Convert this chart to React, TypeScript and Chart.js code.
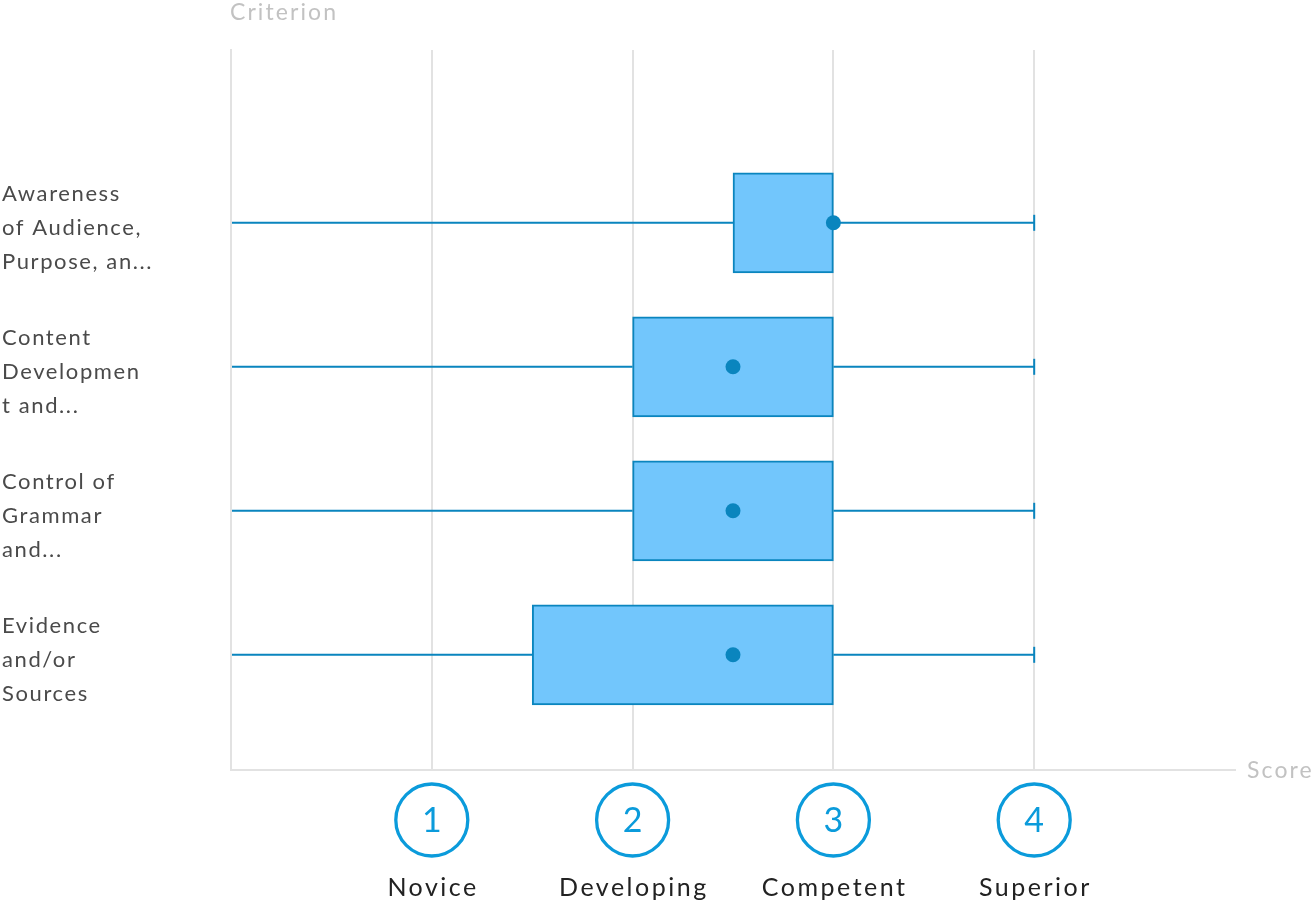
import React, { useEffect, useRef } from 'react';
import { Chart, registerables } from 'chart.js';

Chart.register(...registerables);

const categories: string[][] = [
  ['Awareness', 'of Audience,', 'Purpose, an...'],
  ['Content', 'Developmen', 't and...'],
  ['Control of', 'Grammar', 'and...'],
  ['Evidence', 'and/or', 'Sources'],
];
const mins = [0, 0, 0, 0];
const q1s = [2.5, 2, 2, 1.5];
const medians = [3, 2.5, 2.5, 2.5];
const q3s = [3, 3, 3, 3];
const maxs = [4, 4, 4, 4];
const scoreTicks = [1, 2, 3, 4];
const scoreLabels = ['Novice', 'Developing', 'Competent', 'Superior'];

const BLUE = '#0A85BE';
const FILL = '#72C6FC';
const GRID = '#e2e2e2';
const RING = '#0B9BDB';

const boxPlugin = {
  id: 'boxExtras',
  beforeDraw(chart: any) {
    (chart.ctx as any).letterSpacing = '1.6px';
  },
  beforeDatasetsDraw(chart: any) {
    const { ctx, scales } = chart;
    const xs = scales.x;
    const ys = scales.y;
    ctx.save();
    ctx.strokeStyle = BLUE;
    ctx.lineWidth = 2;
    categories.forEach((_, i) => {
      const y = ys.getPixelForValue(i);
      ctx.beginPath();
      ctx.moveTo(xs.getPixelForValue(mins[i]) + 1, y);
      ctx.lineTo(xs.getPixelForValue(q1s[i]), y);
      ctx.moveTo(xs.getPixelForValue(q3s[i]), y);
      ctx.lineTo(xs.getPixelForValue(maxs[i]), y);
      ctx.stroke();
      const xm = xs.getPixelForValue(maxs[i]);
      ctx.beginPath();
      ctx.moveTo(xm, y - 8);
      ctx.lineTo(xm, y + 8);
      ctx.stroke();
    });
    ctx.restore();
  },
  afterDraw(chart: any) {
    const { ctx, scales, chartArea } = chart;
    const xs = scales.x;
    ctx.save();
    scoreTicks.forEach((v, i) => {
      const x = xs.getPixelForValue(v);
      const cy = chartArea.bottom + 50;
      ctx.beginPath();
      ctx.arc(x, cy, 36, 0, Math.PI * 2);
      ctx.strokeStyle = RING;
      ctx.lineWidth = 3.3;
      ctx.stroke();
      ctx.fillStyle = RING;
      ctx.font = '34px Lato';
      ctx.textAlign = 'center';
      ctx.textBaseline = 'middle';
      (ctx as any).letterSpacing = '0px';
      ctx.fillText(String(v), x, cy + 1);
      ctx.fillStyle = '#222222';
      ctx.font = '25px Lato';
      (ctx as any).letterSpacing = '2.5px';
      ctx.fillText(scoreLabels[i], x + 1.25, chartArea.bottom + 118);
    });
    ctx.fillStyle = '#c2c2c2';
    ctx.font = '23px Lato';
    (ctx as any).letterSpacing = '2.1px';
    ctx.textAlign = 'left';
    ctx.textBaseline = 'middle';
    ctx.fillText('Criterion', chartArea.left - 1, chartArea.top - 37);
    ctx.fillText('Score', chartArea.right + 12, chartArea.bottom + 1);
    ctx.restore();
    (ctx as any).letterSpacing = '0px';
  },
};

export default function App() {
  const ref = useRef<HTMLCanvasElement>(null);
  useEffect(() => {
    if (!ref.current) return;
    const chart = new Chart(ref.current, {
      type: 'bar',
      data: {
        datasets: [
          {
            type: 'scatter',
            data: medians.map((m, i) => ({ x: m, y: i })),
            pointRadius: 7.5,
            pointHoverRadius: 7.5,
            backgroundColor: BLUE,
            borderWidth: 0,
            order: 0,
          } as any,
          {
            type: 'bar',
            data: q1s.map((q, i) => ({ x: [q, q3s[i]], y: i })),
            backgroundColor: FILL,
            borderColor: BLUE,
            borderWidth: 2,
            borderSkipped: false,
            barThickness: 100,
            order: 1,
          } as any,
        ],
      },
      options: {
        indexAxis: 'y',
        responsive: false,
        animation: false,
        layout: { padding: { left: 2, top: 50, right: 78, bottom: 0 } },
        plugins: { legend: { display: false }, tooltip: { enabled: false } },
        scales: {
          x: {
            type: 'linear',
            min: 0,
            max: 5,
            offset: false,
            ticks: { display: false, stepSize: 1 },
            grid: {
              offset: false,
              color: (c: any) => (c.tick && (c.tick.value === 5 || c.tick.value === 0) ? 'rgba(0,0,0,0)' : GRID),
              lineWidth: 2,
              drawTicks: false,
            },
            border: { color: GRID, width: 2 },
            afterFit: (s: any) => {
              s.height = 133;
              s.paddingLeft = 0;
              s.paddingRight = 0;
            },
          },
          y: {
            type: 'linear',
            reverse: true,
            min: -1.2,
            max: 3.8,
            offset: false,
            afterBuildTicks: (s: any) => {
              s.ticks = [0, 1, 2, 3].map((v) => ({ value: v }));
            },
            ticks: {
              callback: (v: any) => categories[v as number] || '',
              crossAlign: 'far',
              color: '#4a4a4a',
              font: { family: 'Lato', size: 22, lineHeight: 34 / 22 },
              autoSkip: false,
              labelOffset: 5,
            },
            grid: { display: false, drawTicks: false, offset: false },
            border: { color: GRID, width: 2 },
            afterFit: (s: any) => {
              s.width = 229;
              s.paddingTop = 0;
              s.paddingBottom = 0;
            },
          },
        },
      } as any,
      plugins: [boxPlugin],
    });
    return () => chart.destroy();
  }, []);
  return (
    <div style={{ position: 'absolute', left: 0, top: 0, width: 1313, height: 903 }}>
      <canvas ref={ref} width={1313} height={903} style={{ width: 1313, height: 903 }} />
    </div>
  );
}
